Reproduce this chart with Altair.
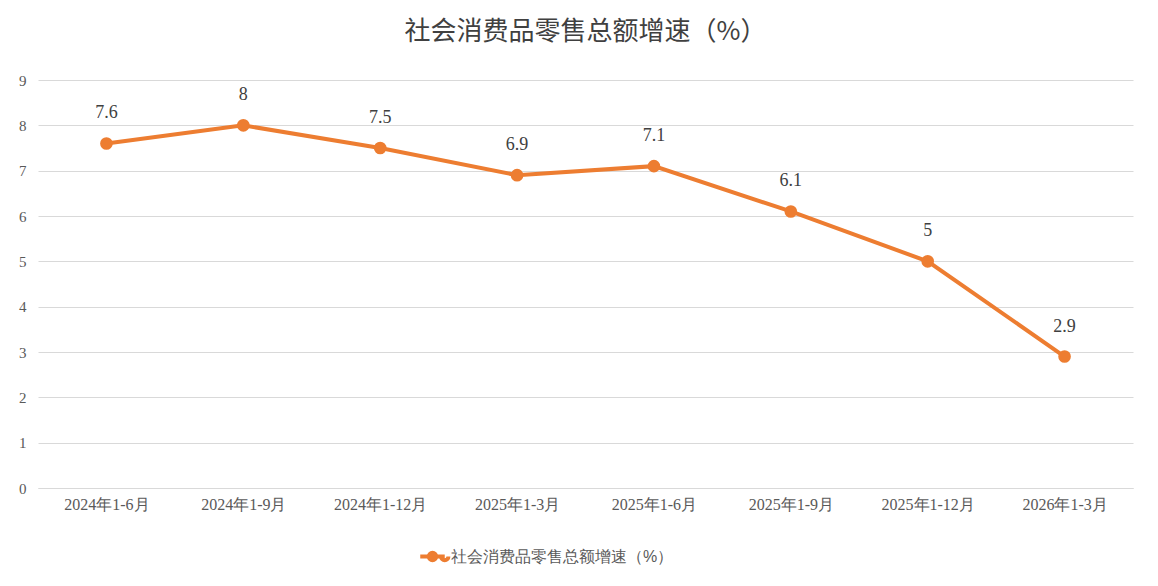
import altair as alt
import pandas as pd

periods = ["2024年1-6月", "2024年1-9月", "2024年1-12月", "2025年1-3月",
           "2025年1-6月", "2025年1-9月", "2025年1-12月", "2026年1-3月"]
growth = [7.6, 8, 7.5, 6.9, 7.1, 6.1, 5, 2.9]
series_name = "社会消费品零售总额增速（%）"

df = pd.DataFrame({"period": periods, "value": growth, "series": series_name})

x = alt.X("period:N", sort=periods, title=None,
          scale=alt.Scale(type="point", padding=0.5),
          axis=alt.Axis(labelAngle=0, labelFontSize=16, labelColor="#595959",
                        labelFont="Liberation Serif", domainColor="#d9d9d9",
                        ticks=False, labelPadding=8, labelOverlap=False))
y = alt.Y("value:Q", title=None, scale=alt.Scale(domain=[0, 9]),
          axis=alt.Axis(values=list(range(10)), labelFontSize=15, labelOverlap=False,
                        labelColor="#595959", labelFont="Liberation Serif",
                        domain=False, ticks=False, gridColor="#d9d9d9", labelPadding=12))

base = alt.Chart(df).encode(x=x, y=y)

line = base.mark_line(color="#ED7D31", strokeWidth=4).encode(
    color=alt.Color("series:N", scale=alt.Scale(range=["#ED7D31"]),
                    legend=alt.Legend(title=None, orient="none", legendX=380, legendY=462,
                                      symbolType="M-1,0L1,0M-0.3,0A0.3,0.3 0 1 0 0.3,0A0.3,0.3 0 1 0 -0.3,0M0.7,0A0.3,0.3 0 1 0 1.3,0",
                                      labelFontSize=16, labelLimit=0,
                                      labelColor="#595959", symbolStrokeWidth=4,
                                      symbolSize=600, direction="horizontal"))
)
pts = base.mark_point(size=160, filled=True, color="#ED7D31", opacity=1)
labels = base.mark_text(dy=-30, fontSize=18, font="Liberation Serif", color="#404040").encode(
    text=alt.Text("value:Q"))

chart = (line + pts + labels).properties(
    width=1095, height=408,
    autosize=alt.AutoSizeParams(type="none"),
    padding={"left": 30, "top": 72, "right": 17, "bottom": 90},
    title=alt.TitleParams("社会消费品零售总额增速（%）", fontSize=26, color="#404040",
                          font="Noto Sans CJK SC", fontWeight="normal", offset=28),
).configure_view(stroke=None)

chart.save("out.html", embed_options={"renderer": "svg", "actions": False})
